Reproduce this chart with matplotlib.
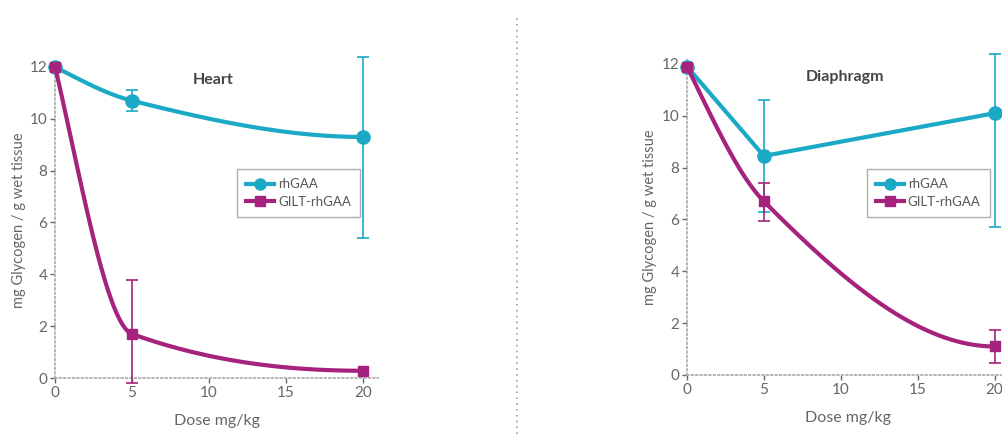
import numpy as np
import matplotlib
matplotlib.use('Agg')
import matplotlib.pyplot as plt

plt.rcParams['font.family'] = ['Lato', 'DejaVu Sans']

dose = [0, 5, 20]

# Heart
heart_rh = [12.0, 10.7, 9.3]
heart_rh_lo = [0.0, 0.4, 3.9]
heart_rh_hi = [0.0, 0.4, 3.1]
heart_gilt = [12.0, 1.7, 0.28]
heart_gilt_lo = [0.0, 1.9, 0.0]
heart_gilt_hi = [0.0, 2.1, 0.0]

# Diaphragm
dia_rh = [11.9, 8.45, 10.1]
dia_rh_lo = [0.0, 2.15, 4.4]
dia_rh_hi = [0.0, 2.15, 2.3]
dia_gilt = [11.9, 6.7, 1.1]
dia_gilt_lo = [0.0, 0.75, 0.65]
dia_gilt_hi = [0.0, 0.7, 0.62]

TEAL = '#1ba9c6'
MAG = '#a5237d'
GRAY = '#666666'


def smooth(x, y, n=60):
    # monotone cubic (PCHIP) line through the points
    x = np.asarray(x, float)
    y = np.asarray(y, float)
    h = np.diff(x)
    d = np.diff(y) / h
    m = np.zeros_like(y)
    for i in range(1, len(x) - 1):
        if d[i - 1] * d[i] > 0:
            w1 = 2 * h[i] + h[i - 1]
            w2 = h[i] + 2 * h[i - 1]
            m[i] = (w1 + w2) / (w1 / d[i - 1] + w2 / d[i])
    for i, j, k in [(0, 0, 1), (-1, -1, -2)]:
        hj, hk = h[j], h[k]
        s = ((2 * hj + hk) * d[j] - hj * d[k]) / (hj + hk)
        if np.sign(s) != np.sign(d[j]):
            s = 0.0
        elif np.sign(d[j]) != np.sign(d[k]) and abs(s) > abs(3 * d[j]):
            s = 3 * d[j]
        m[i] = s
    xs, ys = [], []
    for i in range(len(x) - 1):
        t = np.linspace(0, 1, n)
        h00 = 2 * t**3 - 3 * t**2 + 1
        h10 = t**3 - 2 * t**2 + t
        h01 = -2 * t**3 + 3 * t**2
        h11 = t**3 - t**2
        xs.append(x[i] + t * h[i])
        ys.append(h00 * y[i] + h10 * h[i] * m[i] + h01 * y[i + 1] + h11 * h[i] * m[i + 1])
    return np.concatenate(xs), np.concatenate(ys)


def panel(ax, title, rh, rh_err, gilt, gilt_err, rh_curve, leg_anchor):
    if rh_curve:
        xs, ys = smooth(dose, rh)
        ax.plot(xs, ys, color=TEAL, lw=3, clip_on=False, zorder=3)
    else:
        ax.plot(dose, rh, color=TEAL, lw=3, clip_on=False, zorder=3)
    ax.errorbar(dose, rh, yerr=rh_err, fmt='none', ecolor=TEAL, elinewidth=1.2,
                capsize=4, capthick=1.2, clip_on=False, zorder=3)
    ax.plot(dose, rh, 'o', color=TEAL, ms=9.5, clip_on=False, zorder=4)

    xs, ys = smooth(dose, gilt)
    ax.plot(xs, ys, color=MAG, lw=3, clip_on=False, zorder=5)
    ax.errorbar(dose, gilt, yerr=gilt_err, fmt='none', ecolor=MAG, elinewidth=1.2,
                capsize=4, capthick=1.2, clip_on=False, zorder=5)
    ax.plot(dose, gilt, 's', color=MAG, ms=7.5, clip_on=False, zorder=6)

    # legend handles
    h1, = ax.plot([], [], '-o', color=TEAL, lw=3, ms=8)
    h2, = ax.plot([], [], '-s', color=MAG, lw=3, ms=7)
    leg = ax.legend([h1, h2], ['rhGAA', 'GILT-rhGAA'], loc='upper left',
                    bbox_to_anchor=leg_anchor, borderaxespad=0, fontsize=9.5,
                    frameon=True, fancybox=False, handlelength=2.1, borderpad=0.7,
                    labelspacing=0.4, handletextpad=0.3)
    leg.get_frame().set_edgecolor('#999999')
    leg.get_frame().set_linewidth(1.0)
    for t in leg.get_texts():
        t.set_color('#555555')

    ax.set_xlim(0, 21)
    ax.set_ylim(0, 12.2)
    ax.set_xticks([0, 5, 10, 15, 20])
    ax.set_yticks([0, 2, 4, 6, 8, 10, 12])
    ax.tick_params(colors=GRAY, labelsize=11, length=3.5, width=1, pad=2)
    for s in ['top', 'right']:
        ax.spines[s].set_visible(False)
    for s in ['left', 'bottom']:
        ax.spines[s].set_linestyle(':')
        ax.spines[s].set_color('#aaaaaa')
        ax.spines[s].set_linewidth(1.2)
    ax.set_xlabel('Dose mg/kg', color=GRAY, fontsize=11.5, labelpad=10)
    ax.set_ylabel('mg Glycogen / g wet tissue', color=GRAY, fontsize=10.5, labelpad=3)
    ax.text(0.49, 0.965, title, transform=ax.transAxes, ha='center', va='top',
            fontsize=11.5, fontweight='bold', color='#444444')


fig = plt.figure(figsize=(10.02, 4.34), dpi=100)
ax1 = fig.add_axes([0.055, 0.129, 0.3224, 0.7286])
ax2 = fig.add_axes([0.6856, 0.136, 0.3224, 0.7286])

panel(ax1, 'Heart', heart_rh, [heart_rh_lo, heart_rh_hi],
      heart_gilt, [heart_gilt_lo, heart_gilt_hi], True, (0.563, 0.661))
panel(ax2, 'Diaphragm', dia_rh, [dia_rh_lo, dia_rh_hi],
      dia_gilt, [dia_gilt_lo, dia_gilt_hi], False, (0.557, 0.651))

# dotted divider between panels
fig.add_artist(plt.Line2D([0.516, 0.516], [0.0, 0.965], transform=fig.transFigure,
                          color='#7ea6cf', lw=1.2, ls=(0, (1, 2.5))))

fig.savefig('out.png', dpi=100, facecolor='white')
